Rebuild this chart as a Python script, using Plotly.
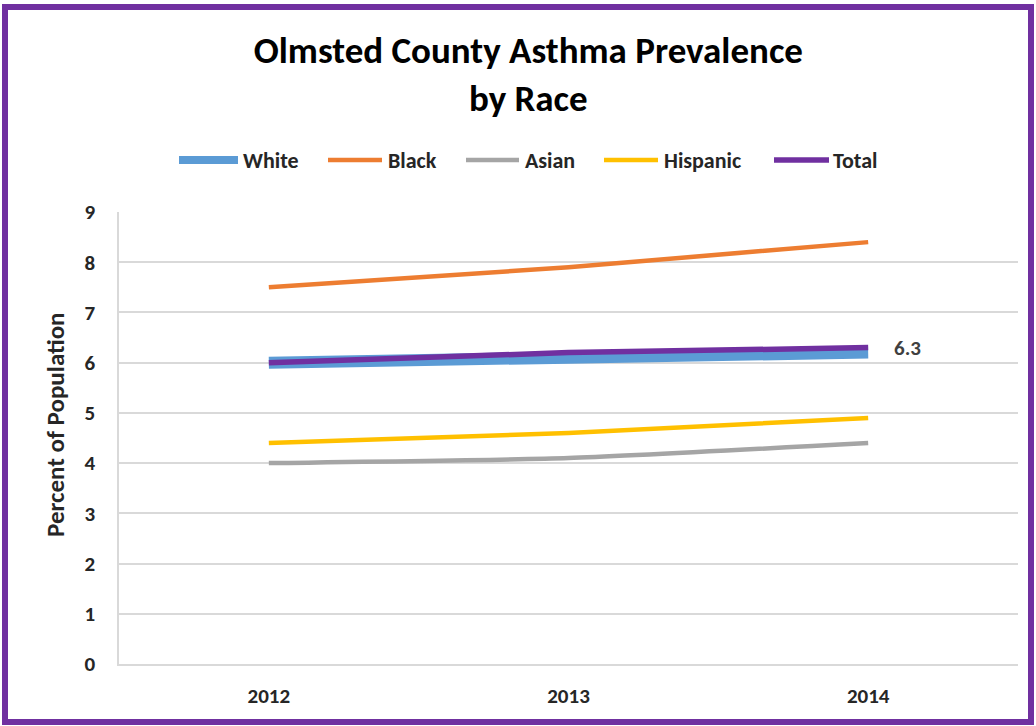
import plotly.graph_objects as go

# Survey years and prevalence (% of population) by race
years = ["2012", "2013", "2014"]
white = [6.0, 6.1, 6.2]
black = [7.5, 7.9, 8.4]
asian = [4.0, 4.1, 4.4]
hispanic = [4.4, 4.6, 4.9]
total = [6.0, 6.2, 6.3]

series_names = ["White", "Black", "Asian", "Hispanic", "Total"]
series_values = [white, black, asian, hispanic, total]
series_colors = ["#5B9BD5", "#ED7D31", "#A5A5A5", "#FFC000", "#7030A0"]
series_widths = [12, 4.5, 4.5, 4.5, 5.5]

y_ticks = list(range(0, 10))

W, H = 1036, 726
L, R, T, B = 119, 18, 212, 62
FONT = "Calibri, Carlito, Lato, sans-serif"


def px_x(px):
    return (px - L) / (W - L - R)


def px_y(py):
    return (H - B - py) / (H - T - B)


fig = go.Figure()
for name, vals, color, width in zip(series_names, series_values, series_colors, series_widths):
    fig.add_trace(go.Scatter(
        x=years, y=vals, name=name, mode="lines",
        line=dict(color=color, width=width, shape="spline", smoothing=0.5),
        showlegend=False,
    ))

# Legend drawn as line samples with labels
legend_items = [(179, 238, 241), (328, 382, 386), (466, 519, 523), (604, 658, 662), (774, 829, 831)]
shapes = []
annotations = []
for (x0, x1, tx), name, color, width in zip(legend_items, series_names, series_colors, series_widths):
    shapes.append(dict(type="line", xref="paper", yref="paper",
                       x0=px_x(x0), x1=px_x(x1), y0=px_y(160), y1=px_y(160),
                       line=dict(color=color, width=min(width, 8))))
    annotations.append(dict(xref="paper", yref="paper", x=px_x(tx), y=px_y(160),
                            xanchor="left", yanchor="middle", text=name, showarrow=False,
                            font=dict(family=FONT, size=22, color="#262626", weight="bold")))

# Data label on the last Total point (x given as category index)
annotations.append(dict(x=len(years) - 1, y=total[-1], text=f"{total[-1]:.1f}", showarrow=False,
                        xanchor="left", yanchor="middle", xshift=24,
                        font=dict(family=FONT, size=21, color="#404040", weight="bold")))

# Y axis title
annotations.append(dict(xref="paper", yref="paper", x=px_x(55), y=px_y(425),
                        text="Percent of Population", textangle=-90, showarrow=False,
                        xanchor="center", yanchor="middle",
                        font=dict(family=FONT, size=25, color="#262626", weight="bold")))

# Purple frame around the chart
shapes.append(dict(type="rect", xref="paper", yref="paper",
                   x0=px_x(5), x1=px_x(1031), y0=px_y(722), y1=px_y(7),
                   line=dict(color="#7030A0", width=6), layer="above"))

fig.update_layout(
    width=W, height=H,
    margin=dict(l=L, r=R, t=T, b=B),
    paper_bgcolor="white", plot_bgcolor="white",
    title=dict(text="Olmsted County Asthma Prevalence<br>by Race",
               x=0.51, xanchor="center", y=1 - 63 / H, yanchor="middle",
               font=dict(family=FONT, size=37, color="#000000", weight="bold")),
    shapes=shapes, annotations=annotations,
    xaxis=dict(type="category", range=[-0.5, 2.5], showgrid=False,
               showline=True, linecolor="#D9D9D9", linewidth=1.5,
               ticks="", ticklabelstandoff=12,
               tickfont=dict(family=FONT, size=21, color="#262626", weight="bold")),
    yaxis=dict(range=[0, 9], tickvals=y_ticks, showgrid=True, gridcolor="#D9D9D9", gridwidth=1.5,
               showline=True, linecolor="#D9D9D9", linewidth=1.5, zeroline=False,
               ticks="", ticklabelstandoff=18,
               tickfont=dict(family=FONT, size=21, color="#262626", weight="bold")),
)

fig.write_html("out.html")
